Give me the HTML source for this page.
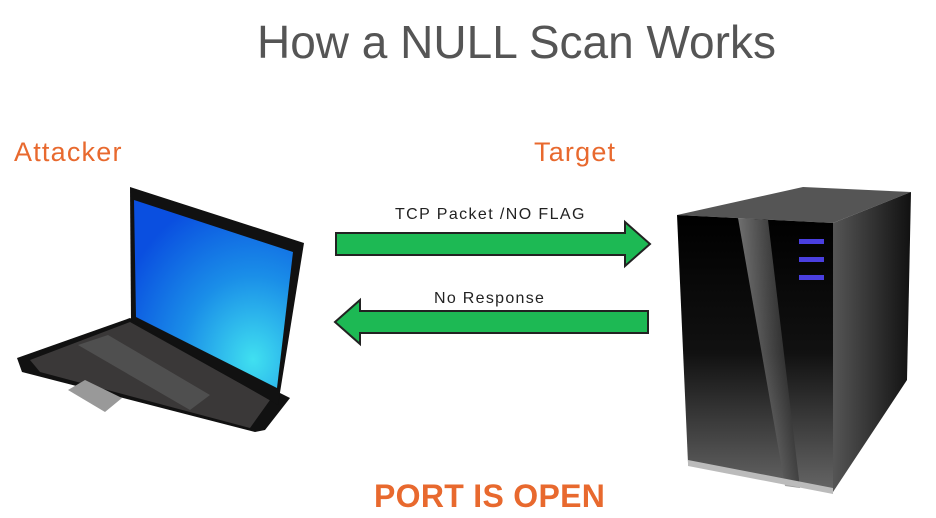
<!DOCTYPE html>
<html><head><style>
html,body{margin:0;padding:0;background:#fff;}
body{width:936px;height:518px;position:relative;overflow:hidden;font-family:"Liberation Sans",sans-serif;}
.t{position:absolute;white-space:nowrap;}
</style></head><body>
<div class="t" style="left:257px;top:15px;font-size:46px;color:#555;letter-spacing:0px">How a NULL Scan Works</div>
<div class="t" style="left:14px;top:137px;font-size:27px;color:#e8692e;letter-spacing:1.2px">Attacker</div>
<div class="t" style="left:534px;top:137px;font-size:27px;color:#e8692e;letter-spacing:1.2px">Target</div>
<div class="t" style="left:395px;top:206px;font-size:16px;color:#222;letter-spacing:1.4px">TCP Packet /NO FLAG</div>
<div class="t" style="left:434px;top:290px;font-size:16px;color:#222;letter-spacing:1.3px">No Response</div>
<div class="t" style="left:374px;top:478px;font-size:32px;font-weight:bold;color:#e8692e;letter-spacing:0.3px">PORT IS OPEN</div>
<svg width="936" height="518" style="position:absolute;left:0;top:0">
<defs>
<radialGradient id="scr" cx="0.75" cy="0.85" r="0.9">
<stop offset="0" stop-color="#40e0f0"/><stop offset="0.5" stop-color="#1a8ee8"/><stop offset="1" stop-color="#0a4fe0"/></radialGradient>
<linearGradient id="srv" x1="0" y1="0" x2="0" y2="1"><stop offset="0" stop-color="#000"/><stop offset="0.5" stop-color="#111"/><stop offset="1" stop-color="#666"/></linearGradient>
<linearGradient id="side" x1="0" y1="0" x2="1" y2="0"><stop offset="0" stop-color="#555"/><stop offset="1" stop-color="#111"/></linearGradient>
<linearGradient id="gl" x1="0" y1="0" x2="1" y2="0"><stop offset="0" stop-color="#ddd"/><stop offset="1" stop-color="#222"/></linearGradient>
</defs>
<polygon points="336,233 625,233 625,222 650,244 625,266 625,255 336,255" fill="#1db954" stroke="#222" stroke-width="2"/>
<polygon points="648,311 360,311 360,300 335,322 360,344 360,333 648,333" fill="#1db954" stroke="#222" stroke-width="2"/>
<polygon points="17,358 130,318 290,398 265,430 255,432 22,372" fill="#111"/>
<polygon points="30,360 130,322 270,400 250,428 40,372" fill="#3a3838"/>
<polygon points="78,345 108,335 210,395 190,410" fill="#555" opacity="0.8"/>
<polygon points="68,390 85,380 122,398 105,412" fill="#999"/>
<polygon points="130,187 304,243 278,405 131,320" fill="#111"/>
<polygon points="134,200 293,252 277,388 136,317" fill="url(#scr)"/>
<polygon points="677,215 803,187 911,192 833,223" fill="#555"/>
<polygon points="833,223 911,192 907,380 833,492" fill="url(#side)"/>
<polygon points="677,215 833,223 833,492 688,463" fill="url(#srv)"/>
<polygon points="738,218 768,220 800,488 785,486" fill="url(#gl)" opacity="0.5"/>
<polygon points="688,460 833,488 833,494 688,466" fill="#bbb"/>
<rect x="799" y="239" width="25" height="5" fill="#4a3fe0"/>
<rect x="799" y="257" width="25" height="5" fill="#4a3fe0"/>
<rect x="799" y="275" width="25" height="5" fill="#4a3fe0"/>
</svg>
</body></html>
